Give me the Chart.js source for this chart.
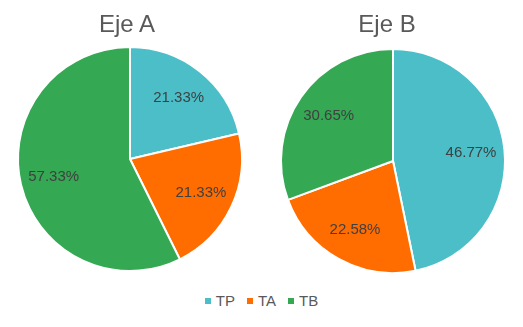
<!DOCTYPE html>
<html>
<head>
<meta charset="utf-8">
<script src="https://cdn.jsdelivr.net/npm/chart.js@4/dist/chart.umd.min.js"></script>
<style>
  html, body { margin:0; padding:0; background:#fff; }
  body { width:523px; height:327px; position:relative; overflow:hidden; font-family:"Liberation Sans", Arial, sans-serif; }
  .box { position:absolute; top:0; }
  .title { position:absolute; top:10px; width:200px; text-align:center; font-size:24px; line-height:28px; color:#595959; }
  #legend { position:absolute; left:0; width:523px; top:292px; line-height:17px; text-align:center; font-size:15px; color:#595959; white-space:nowrap; }
  #legend span.item { display:inline-block; margin:0 6px; }
  #legend span.sw { display:inline-block; width:6px; height:6px; margin-right:5px; vertical-align:middle; position:relative; top:-1px; }
</style>
</head>
<body>
<div class="box" style="left:-1px;width:262px;height:280px;"><canvas id="cA"></canvas></div>
<div class="box" style="left:262px;width:262px;height:282px;"><canvas id="cB"></canvas></div>
<div class="title" id="tA" style="left:27px;"></div>
<div class="title" id="tB" style="left:287px;"></div>
<div id="legend"></div>
<script>
const categories = ["TP", "TA", "TB"];
const titles = ["Eje A", "Eje B"];
const valuesA = [21.33, 21.33, 57.33];
const valuesB = [46.77, 22.58, 30.65];
const colors = ["#4BBEC8", "#FF6D00", "#34A853"];

const labelPlugin = {
  id: 'pctLabels',
  afterDatasetsDraw(chart) {
    const ctx = chart.ctx;
    const meta = chart.getDatasetMeta(0);
    const data = chart.data.datasets[0].data;
    ctx.save();
    ctx.font = '15px "Liberation Sans", Arial, sans-serif';
    ctx.fillStyle = '#404040';
    ctx.textAlign = 'center';
    ctx.textBaseline = 'middle';
    meta.data.forEach((arc, i) => {
      const p = arc.getProps(['x','y','startAngle','endAngle','outerRadius'], true);
      const mid = (p.startAngle + p.endAngle) / 2;
      const r = p.outerRadius * 0.7;
      ctx.fillText(data[i].toFixed(2) + '%', p.x + Math.cos(mid) * r, p.y + Math.sin(mid) * r);
    });
    ctx.restore();
  }
};

function makePie(id, values, padTop, padBottom) {
  return new Chart(document.getElementById(id), {
    type: 'pie',
    data: { labels: categories, datasets: [{ data: values, backgroundColor: colors, borderColor: '#ffffff', borderWidth: 2 }] },
    options: {
      responsive: true,
      maintainAspectRatio: false,
      animation: false,
      layout: { padding: { top: padTop, bottom: padBottom, left: 0, right: 0 } },
      plugins: {
        legend: { display: false },
        tooltip: { enabled: false },
        title: { display: false }
      }
    },
    plugins: [labelPlugin]
  });
}
makePie('cA', valuesA, 46, 8);
makePie('cB', valuesB, 48, 8);

document.getElementById('tA').textContent = titles[0];
document.getElementById('tB').textContent = titles[1];

const leg = document.getElementById('legend');
categories.forEach((c, i) => {
  const it = document.createElement('span');
  it.className = 'item';
  it.innerHTML = '<span class="sw" style="background:' + colors[i] + '"></span>' + c;
  leg.appendChild(it);
});
</script>
</body>
</html>
